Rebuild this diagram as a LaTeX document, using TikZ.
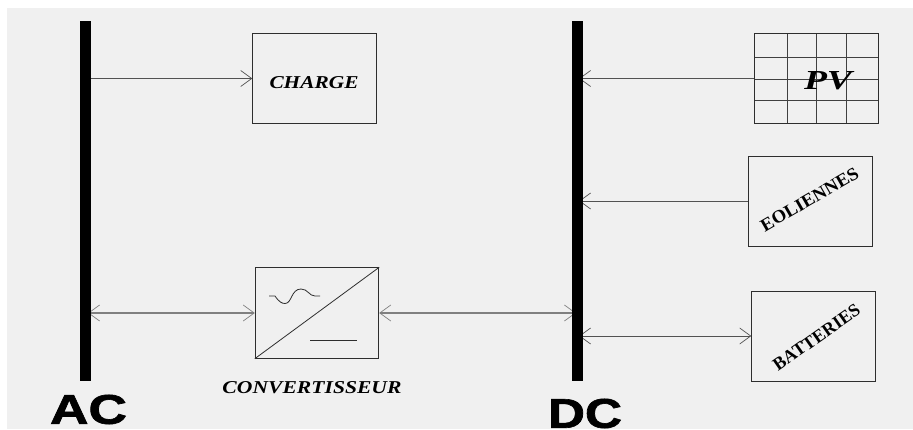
\documentclass[tikz,border=0pt]{standalone}
\usepackage{graphicx}
\usepackage{fontspec}
\setmainfont{Liberation Serif}
\newfontfamily\arialfont[BoldFeatures={FakeBold=1.5}]{Liberation Sans}
\usetikzlibrary{arrows.meta,backgrounds}
\definecolor{panel}{HTML}{F0F0F0}
\tikzset{
  x=1pt,y=-1pt,
  boxnode/.style={draw=black!82,line width=0.9pt,fill=none,inner sep=0pt,minimum width=123.5pt,minimum height=89.5pt},
  busbar/.style={fill=black,draw=none,inner sep=0pt,minimum width=11pt,minimum height=360pt},
  link/.style={draw=black!68,line width=0.9pt},
  softlink/.style={draw=black!50,line width=1.2pt},
  barb/.tip={Straight Barb[length=11pt,width=16pt,line width=0.7pt]},
  gridline/.style={draw=black!75,line width=0.8pt},
  symbolline/.style={draw=black!82,line width=0.8pt},
  lbl/.style={inner sep=0pt,text=black}
}
\newcommand{\labeltext}[3]{\resizebox{#1pt}{#2pt}{\bfseries\itshape #3}}
\newcommand{\uprighttext}[3]{\resizebox{#1pt}{#2pt}{\bfseries #3}}
\newcommand{\bigtext}[3]{\resizebox{#1pt}{#2pt}{\arialfont\bfseries #3}}
\begin{document}
\begin{tikzpicture}
\useasboundingbox (0,0) rectangle (913,430);
\node[busbar] (ac) at (85.5,201) {};
\node[busbar] (dc) at (577.5,201) {};
\node[boxnode] (charge) at (314.5,78.5) {};
\node[boxnode,minimum width=124pt] (pv) at (816.5,78.5) {};
\node[boxnode,minimum width=124pt,minimum height=90pt] (eol) at (810.7,201) {};
\node[boxnode,minimum height=90pt] (bat) at (813.5,336) {};
\node[boxnode,minimum height=90.5pt] (conv) at (317,313) {};
\node[lbl] (chargetxt) at (314,83) {\labeltext{89}{12}{CHARGE}};
\node[lbl] (pvtxt) at (828,81) {\labeltext{48}{18}{PV}};
\node[lbl,rotate=30] (eoltxt) at (809.5,199.5) {\uprighttext{110}{12}{EOLIENNES}};
\node[lbl,rotate=35] (battxt) at (816.5,337.5) {\uprighttext{102}{12}{BATTERIES}};
\node[lbl] (convtxt) at (312,387.5) {\labeltext{179}{12}{CONVERTISSEUR}};
\node[lbl] (actxt) at (88.5,409.5) {\bigtext{77}{29}{AC}};
\node[lbl] (dctxt) at (585,413.5) {\bigtext{74}{29}{DC}};
\begin{scope}[on background layer]
  \fill[panel] (7,8) rectangle (913,429);
  \draw[gridline] (787,34) -- (787,123) (816,34) -- (816,123) (846,34) -- (846,123);
  \draw[gridline] (754.5,57) -- (878.5,57) (754.5,79) -- (878.5,79) (754.5,100) -- (878.5,100);
  \draw[link,-barb] (ac.center |- charge.west) -- (charge.west);
  \draw[link,-barb] (pv.west) -- ([xshift=1.5pt]dc.center |- pv.west);
  \draw[link,-barb] (eol.west) -- ([xshift=1.5pt]dc.center |- eol.west);
  \draw[link,barb-barb] ([xshift=1.5pt]dc.center |- bat.west) -- (bat.west);
  \draw[softlink,barb-barb] ([xshift=2.5pt]ac.center |- conv.west) -- (conv.west);
  \draw[softlink,barb-barb] (conv.east) -- ([xshift=-1.5pt]dc.center |- conv.east);
\end{scope}
\draw[symbolline] (conv.south west) -- (conv.north east);
\draw[symbolline] (269,296) -- (275,296) .. controls (279,302) and (282,303.5) .. (285,303.5)
  .. controls (292,303.5) and (291,289) .. (301,289) .. controls (308,289) and (309,296) .. (315,296) -- (320,296);
\draw[symbolline] (310,340) -- (357,340);
\end{tikzpicture}
\end{document}
